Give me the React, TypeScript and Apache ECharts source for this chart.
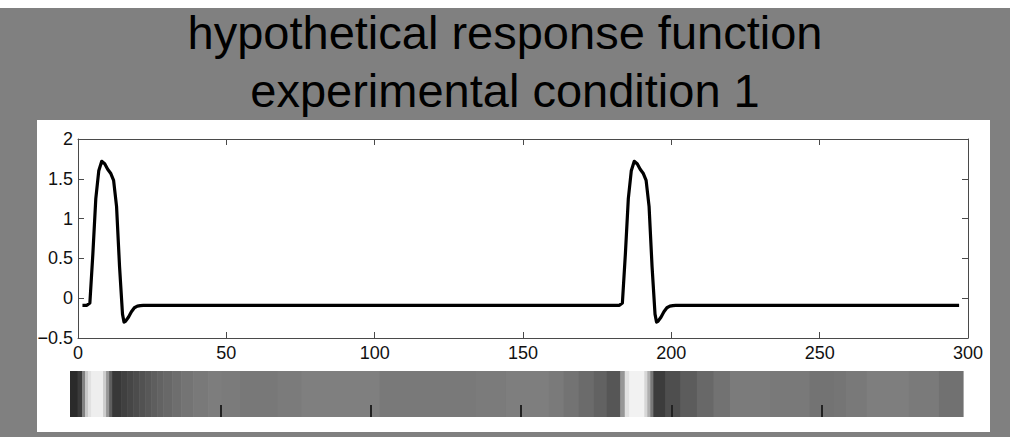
import React, { useEffect, useRef } from "react";
import * as echarts from "echarts";

const titleLines = ["hypothetical response function", "experimental condition 1"];

// response curve (time, value)
const responseX = [
  1.5, 3, 4, 5, 6, 7, 8, 9, 10, 11, 12, 13, 14, 15, 15.5, 16, 17, 18, 19, 20, 21, 22,
  182.5, 183.5, 184.5, 185.5, 186.5, 187.5, 188.5, 189.5, 190.5, 191.5, 192.5, 193.5, 194.5,
  195, 195.5, 196.5, 197.5, 198.5, 199.5, 200.5, 201.5, 297,
];
const responseY = [
  -0.09, -0.09, -0.06, 0.55, 1.25, 1.6, 1.72, 1.69, 1.62, 1.57, 1.48, 1.15, 0.4, -0.2, -0.3, -0.29, -0.24, -0.17, -0.12, -0.1, -0.093, -0.09,
  -0.09, -0.06, 0.55, 1.25, 1.6, 1.72, 1.69, 1.62, 1.57, 1.48, 1.15, 0.4, -0.2,
  -0.3, -0.29, -0.24, -0.17, -0.12, -0.1, -0.093, -0.09, -0.09,
];

const xTicks = [0, 50, 100, 150, 200, 250, 300];
const yTicks = [-0.5, 0, 0.5, 1, 1.5, 2];

// grey strip: band start, band end, grey level (0-255)
const stripStart = [
  0, 2.5, 4, 5, 6, 7, 11, 12, 13, 14, 17, 19, 21, 23, 25, 27, 29, 31, 34, 37, 41, 46, 50.5, 56.5, 69, 77, 103, 135, 145, 159,
  164, 169, 174, 178.5, 183, 184.5, 186, 191, 192, 193, 194, 198, 203, 208.5, 214, 219.5, 233, 246, 254, 258, 265, 279, 289,
];
const stripEnd = [
  2.5, 4, 5, 6, 7, 11, 12, 13, 14, 17, 19, 21, 23, 25, 27, 29, 31, 34, 37, 41, 46, 50.5, 56.5, 69, 77, 103, 135, 145, 159, 164,
  169, 174, 178.5, 183, 184.5, 186, 191, 192, 193, 194, 198, 203, 208.5, 214, 219.5, 233, 246, 254, 258, 265, 279, 289, 297,
];
const stripGray = [
  42, 58, 130, 200, 225, 238, 205, 150, 95, 56, 64, 70, 76, 82, 88, 94, 99, 104, 110, 116, 121, 125, 123, 120, 123, 127, 121, 123, 126, 122,
  115, 107, 98, 86, 150, 225, 242, 215, 175, 120, 60, 78, 92, 104, 114, 123, 121, 115, 117, 121, 126, 122, 113,
];
const stripTicks = [50, 100, 150, 200, 250];

const FONT = "'Liberation Sans', Arial, Helvetica, sans-serif";

export default function App() {
  const ref = useRef<HTMLDivElement>(null);
  useEffect(() => {
    if (!ref.current) return;
    const chart = echarts.init(ref.current, null, { renderer: "svg" });
    const lineData = responseX.map((x, i) => [x, responseY[i]]);
    const stripData = stripStart.map((s, i) => [s, stripEnd[i], stripGray[i]]);
    const axisColor = "#4a4a4a";
    const labelStyle = { color: "#111", fontSize: 18, fontFamily: FONT };
    chart.setOption({
      animation: false,
      backgroundColor: "#808080",
      title: {
        text: titleLines.join("\n"),
        left: "center",
        top: -2,
        textStyle: { fontSize: 47, lineHeight: 58, fontWeight: "normal", color: "#000", fontFamily: FONT },
      },
      graphic: [
        { type: "rect", z: -10, shape: { x: 0, y: 0, width: 1010, height: 8 }, style: { fill: "#ffffff" } },
        { type: "rect", z: -10, shape: { x: 37, y: 120, width: 953, height: 312 }, style: { fill: "#ffffff" } },
      ],
      grid: [
        { left: 78, top: 139, width: 890, height: 199 },
        { left: 70, top: 371, width: 893, height: 46 },
      ],
      xAxis: [
        {
          type: "value", gridIndex: 0, min: 0, max: 300, interval: 50, position: "bottom",
          axisLine: { show: true, onZero: false, lineStyle: { color: axisColor, width: 1 } },
          axisTick: { show: true, inside: true, length: 6, lineStyle: { color: axisColor }, customValues: xTicks.slice(1, -1) },
          axisLabel: { ...labelStyle, margin: 6, customValues: xTicks },
          splitLine: { show: false },
        },
        {
          type: "value", gridIndex: 0, min: 0, max: 300, interval: 50, position: "top",
          axisLine: { show: true, onZero: false, lineStyle: { color: axisColor, width: 1 } },
          axisTick: { show: true, inside: true, length: 6, lineStyle: { color: axisColor }, customValues: xTicks.slice(1, -1) },
          axisLabel: { show: false },
          splitLine: { show: false },
        },
        {
          type: "value", gridIndex: 1, min: 0, max: 297, interval: 50, z: 10,
          axisLine: { show: false },
          axisTick: { show: true, inside: true, length: 12, lineStyle: { color: "#222", width: 2 }, customValues: stripTicks },
          axisLabel: { show: false },
          splitLine: { show: false },
        },
      ],
      yAxis: [
        {
          type: "value", gridIndex: 0, min: -0.5, max: 2, interval: 0.5, position: "left",
          axisLine: { show: true, onZero: false, lineStyle: { color: axisColor, width: 1 } },
          axisTick: { show: true, inside: true, length: 6, lineStyle: { color: axisColor }, customValues: yTicks.slice(1, -1) },
          axisLabel: {
            ...labelStyle, margin: 5, customValues: yTicks,
            formatter: (v: number) => (v < 0 ? "\u2212" + Math.abs(v) : String(v)),
          },
          splitLine: { show: false },
        },
        {
          type: "value", gridIndex: 0, min: -0.5, max: 2, interval: 0.5, position: "right",
          axisLine: { show: true, onZero: false, lineStyle: { color: axisColor, width: 1 } },
          axisTick: { show: true, inside: true, length: 6, lineStyle: { color: axisColor }, customValues: yTicks.slice(1, -1) },
          axisLabel: { show: false },
          splitLine: { show: false },
        },
        {
          type: "value", gridIndex: 1, min: 0, max: 1, show: false,
        },
      ],
      series: [
        {
          type: "custom",
          xAxisIndex: 2,
          yAxisIndex: 2,
          data: stripData,
          renderItem: (params: any, api: any) => {
            const p0 = api.coord([api.value(0), 1]);
            const p1 = api.coord([api.value(1), 0]);
            const g = api.value(2);
            return {
              type: "rect",
              shape: { x: p0[0], y: p0[1], width: p1[0] - p0[0] + 0.6, height: p1[1] - p0[1] },
              style: { fill: `rgb(${g},${g},${g})` },
            };
          },
        },
        {
          type: "line",
          xAxisIndex: 0,
          yAxisIndex: 0,
          data: lineData,
          showSymbol: false,
          lineStyle: { color: "#000", width: 3.2, join: "round" },
        },
      ],
    });
    return () => chart.dispose();
  }, []);
  return <div ref={ref} style={{ position: "fixed", left: 0, top: 0, width: 1010, height: 437 }} />;
}
